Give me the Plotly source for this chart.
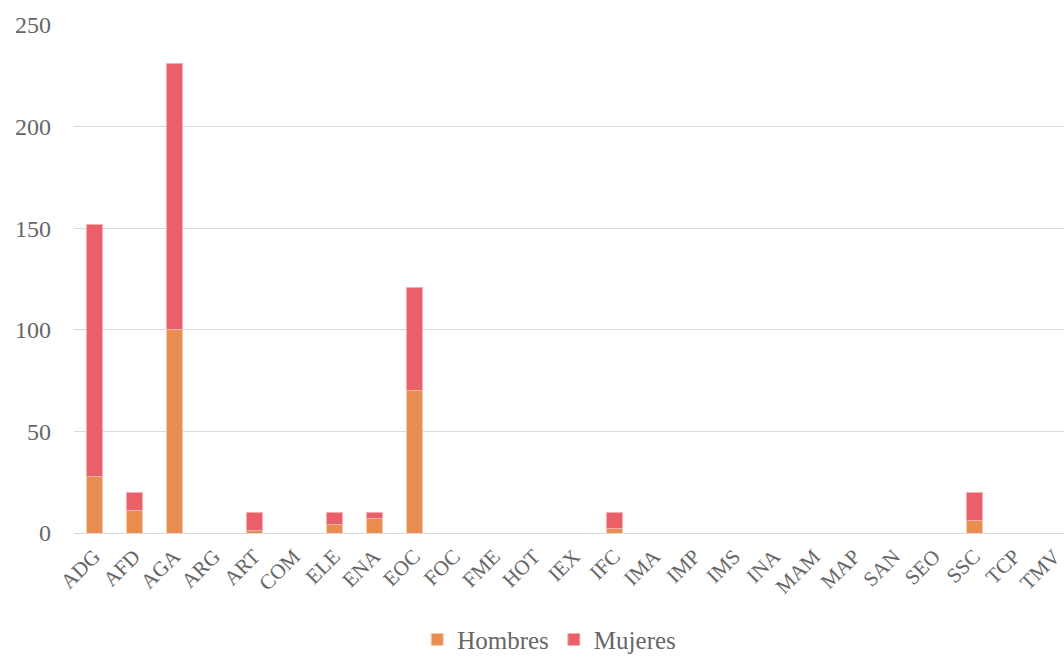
import plotly.graph_objects as go

categorias = ["ADG", "AFD", "AGA", "ARG", "ART", "COM", "ELE", "ENA", "EOC", "FOC",
              "FME", "HOT", "IEX", "IFC", "IMA", "IMP", "IMS", "INA", "MAM", "MAP",
              "SAN", "SEO", "SSC", "TCP", "TMV"]
hombres = [28, 11, 100, 0, 1, 0, 4, 7, 70, 0, 0, 0, 0, 2, 0, 0, 0, 0, 0, 0, 0, 0, 6, 0, 0]
mujeres = [124, 9, 131, 0, 9, 0, 6, 3, 51, 0, 0, 0, 0, 8, 0, 0, 0, 0, 0, 0, 0, 0, 14, 0, 0]
y_ticks = [0, 50, 100, 150, 200, 250]

FONT = "Liberation Serif"
GRAY = "#666666"

fig = go.Figure()
fig.add_trace(go.Bar(x=categorias, y=hombres, name="Hombres",
                     marker=dict(color="#EA8E4F", line=dict(color="#F6C9AA", width=1))))
fig.add_trace(go.Bar(x=categorias, y=mujeres, name="Mujeres",
                     marker=dict(color="#EA5F68", line=dict(color="#F5AEB2", width=1))))

fig.update_layout(
    width=1064, height=657,
    barmode="stack", bargap=0.6,
    paper_bgcolor="white", plot_bgcolor="white",
    margin=dict(l=74, r=0, t=25, b=124, autoexpand=False),
    font=dict(family=FONT, size=21, color=GRAY),
    legend=dict(orientation="h", x=0.48, xanchor="center", y=-0.21, yanchor="middle",
                font=dict(size=25, color=GRAY), traceorder="normal"),
    showlegend=True,
)
fig.update_xaxes(range=[-0.5, 24.25], tickangle=-45, showgrid=False, showline=False,
                 automargin=False, ticks="", ticklabelstandoff=6,
                 tickfont=dict(size=21, color=GRAY))
fig.update_yaxes(range=[0, 250], tickvals=y_ticks, showgrid=True, gridcolor="#D9D9D9",
                 gridwidth=1, zeroline=True, zerolinecolor="#D9D9D9", zerolinewidth=1,
                 automargin=False, showline=False, ticks="", ticklabelstandoff=22,
                 tickfont=dict(size=24, color=GRAY))

fig.write_html("out.html")
